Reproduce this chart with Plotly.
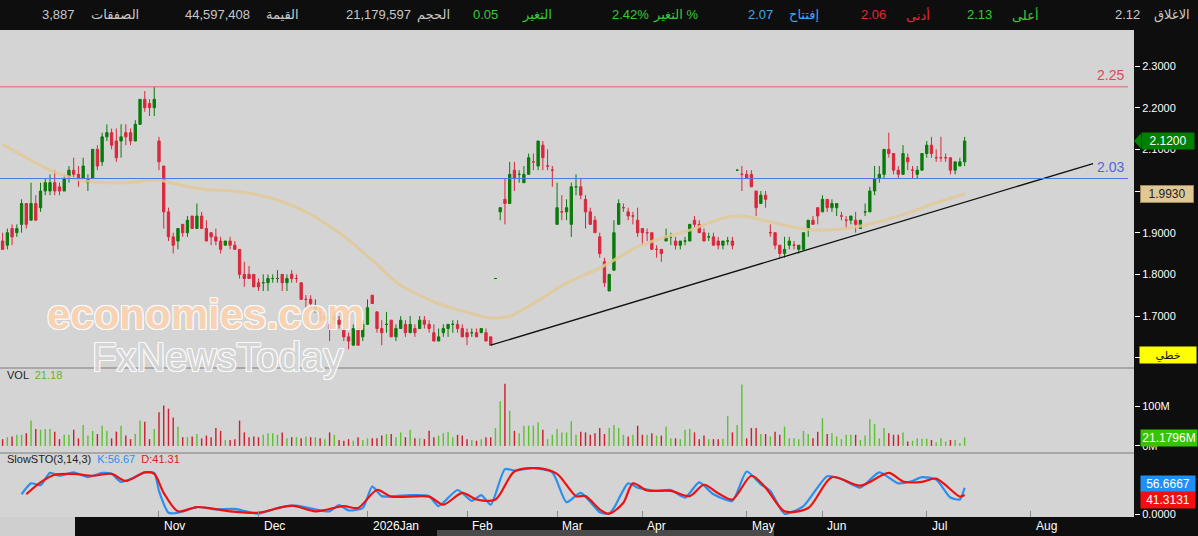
import plotly.graph_objects as go

# ---------------- DATA ----------------
opens = [1.88,1.87,1.91,1.90,1.92,1.97,1.93,1.97,1.96,2.00,
         2.00,2.02,2.01,2.00,2.03,2.05,2.04,2.03,2.02,2.03,
         2.10,2.07,2.13,2.14,2.12,2.12,2.14,2.14,2.12,2.16,
         2.22,2.21,2.20,2.12,2.06,1.95,1.89,1.88,1.92,1.90,
         1.94,1.91,1.94,1.91,1.90,1.89,1.88,1.87,1.88,1.87,
         1.86,1.80,1.80,1.80,1.78,1.78,1.78,1.79,1.79,1.80,
         1.78,1.80,1.79,1.78,1.74,1.74,1.71,1.71,1.69,1.68,
         1.69,1.69,1.67,1.65,1.63,1.67,1.65,1.68,1.75,1.71,
         1.67,1.68,1.69,1.65,1.67,1.68,1.66,1.67,1.67,1.69,
         1.68,1.66,1.64,1.66,1.67,1.68,1.68,1.67,1.66,1.66,
         1.66,1.66,1.66,1.65,1.79,1.95,1.98,1.97,2.05,2.04,
         2.02,2.04,2.07,2.06,2.11,2.06,2.05,1.92,1.95,1.95,
         1.92,2.01,2.01,1.98,1.95,1.93,1.89,1.83,1.76,1.81,
         1.92,1.96,1.95,1.94,1.93,1.91,1.90,1.90,1.86,1.86,
         1.88,1.89,1.88,1.87,1.88,1.88,1.93,1.92,1.90,1.89,
         1.89,1.88,1.87,1.88,1.88,2.05,2.04,2.04,2.04,2.00,
         1.97,1.99,1.90,1.90,1.87,1.85,1.87,1.87,1.86,1.86,
         1.91,1.93,1.96,1.95,1.98,1.96,1.96,1.94,1.93,1.93,
         1.93,1.91,1.95,1.95,2.00,2.03,2.04,2.10,2.09,2.05,
         2.04,2.08,2.05,2.04,2.05,2.09,2.11,2.08,2.08,2.08,
         2.08,2.05,2.06,2.07]
highs = [1.90,1.91,1.92,1.92,1.98,1.97,2.02,1.99,2.02,2.03,
         2.04,2.05,2.02,2.04,2.06,2.08,2.06,2.08,2.04,2.10,
         2.11,2.14,2.16,2.15,2.15,2.16,2.16,2.15,2.17,2.22,
         2.24,2.22,2.25,2.13,2.06,1.96,1.90,1.91,1.92,1.94,
         1.94,1.97,1.95,1.93,1.90,1.91,1.89,1.88,1.89,1.88,
         1.86,1.83,1.82,1.80,1.79,1.80,1.80,1.80,1.81,1.80,
         1.80,1.81,1.80,1.78,1.75,1.75,1.74,1.72,1.71,1.69,
         1.71,1.70,1.67,1.66,1.68,1.67,1.69,1.74,1.75,1.71,
         1.69,1.71,1.69,1.68,1.70,1.69,1.70,1.68,1.70,1.70,
         1.69,1.68,1.67,1.68,1.68,1.69,1.69,1.68,1.67,1.67,
         1.67,1.67,1.67,1.65,1.79,1.96,2.03,2.07,2.07,2.05,
         2.06,2.09,2.09,2.12,2.12,2.10,2.06,2.02,1.99,1.98,
         2.02,2.04,2.03,1.99,1.96,1.94,1.90,1.84,1.80,1.93,
         1.98,1.97,1.96,1.95,1.96,1.91,1.91,1.90,1.87,1.86,
         1.91,1.90,1.89,1.88,1.89,1.92,1.94,1.93,1.91,1.90,
         1.90,1.89,1.88,1.89,1.89,2.05,2.06,2.05,2.05,2.00,
         2.00,2.00,1.92,1.90,1.87,1.89,1.89,1.88,1.87,1.90,
         1.93,1.94,1.96,1.99,1.98,1.98,1.97,1.95,1.94,1.94,
         1.95,1.93,1.97,2.01,2.06,2.06,2.10,2.14,2.09,2.06,
         2.11,2.09,2.06,2.06,2.09,2.12,2.13,2.10,2.13,2.09,
         2.08,2.07,2.08,2.13]
lows = [1.86,1.86,1.87,1.89,1.90,1.91,1.93,1.93,1.95,1.99,
        1.99,1.99,1.99,2.00,2.02,2.03,2.01,2.03,2.00,2.03,
        2.05,2.06,2.12,2.10,2.07,2.08,2.11,2.11,2.12,2.16,
        2.19,2.18,2.18,2.05,1.91,1.88,1.85,1.86,1.89,1.89,
        1.91,1.91,1.91,1.88,1.87,1.87,1.85,1.87,1.86,1.86,
        1.79,1.77,1.79,1.77,1.76,1.76,1.76,1.78,1.78,1.76,
        1.76,1.78,1.78,1.74,1.72,1.72,1.71,1.69,1.69,1.64,
        1.68,1.67,1.64,1.62,1.63,1.63,1.64,1.68,1.73,1.66,
        1.63,1.66,1.65,1.64,1.67,1.65,1.66,1.65,1.67,1.67,
        1.66,1.64,1.64,1.65,1.65,1.66,1.66,1.65,1.63,1.65,
        1.65,1.66,1.64,1.63,1.79,1.93,1.92,1.97,2.00,2.02,
        2.02,2.04,2.05,2.05,2.05,2.05,2.01,1.92,1.93,1.93,
        1.89,1.99,1.98,1.91,1.92,1.90,1.84,1.77,1.76,1.81,
        1.92,1.95,1.93,1.92,1.89,1.87,1.88,1.86,1.84,1.83,
        1.88,1.87,1.86,1.86,1.87,1.88,1.91,1.90,1.88,1.88,
        1.87,1.86,1.86,1.87,1.86,2.05,2.00,2.03,2.01,1.94,
        1.97,1.96,1.89,1.86,1.84,1.84,1.86,1.86,1.85,1.86,
        1.89,1.92,1.92,1.95,1.95,1.95,1.94,1.93,1.91,1.92,
        1.90,1.91,1.94,1.95,1.99,2.02,2.03,2.08,2.04,2.03,
        2.04,2.05,2.03,2.03,2.05,2.08,2.08,2.07,2.07,2.07,
        2.04,2.04,2.06,2.06]
closes = [1.86,1.90,1.89,1.91,1.97,1.92,1.97,1.93,2.00,2.02,
          2.02,2.00,2.00,2.03,2.05,2.04,2.03,2.06,2.03,2.10,
          2.06,2.13,2.14,2.11,2.08,2.13,2.13,2.12,2.16,2.22,
          2.20,2.20,2.22,2.07,1.95,1.89,1.87,1.91,1.90,1.93,
          1.91,1.94,1.91,1.88,1.89,1.88,1.86,1.88,1.87,1.86,
          1.80,1.79,1.79,1.77,1.77,1.78,1.79,1.79,1.79,1.78,
          1.79,1.79,1.79,1.74,1.74,1.73,1.72,1.69,1.70,1.67,
          1.70,1.68,1.65,1.64,1.67,1.63,1.68,1.72,1.73,1.67,
          1.66,1.68,1.65,1.67,1.69,1.66,1.68,1.66,1.69,1.68,
          1.67,1.64,1.65,1.67,1.68,1.68,1.67,1.65,1.65,1.66,
          1.65,1.67,1.64,1.63,1.79,1.96,1.97,2.04,2.03,2.04,
          2.04,2.08,2.07,2.12,2.08,2.06,2.05,1.96,1.95,1.96,
          2.01,2.01,1.99,1.95,1.92,1.90,1.85,1.78,1.80,1.90,
          1.97,1.96,1.94,1.94,1.90,1.90,1.90,1.86,1.86,1.85,
          1.89,1.89,1.87,1.88,1.88,1.92,1.92,1.90,1.88,1.89,
          1.87,1.87,1.88,1.88,1.87,2.05,2.04,2.03,2.01,1.96,
          1.99,1.98,1.90,1.87,1.85,1.86,1.88,1.87,1.87,1.90,
          1.93,1.92,1.94,1.98,1.96,1.97,1.97,1.94,1.93,1.94,
          1.92,1.93,1.95,2.00,2.03,2.04,2.10,2.09,2.05,2.04,
          2.09,2.07,2.05,2.05,2.09,2.11,2.09,2.08,2.08,2.08,
          2.05,2.07,2.07,2.12]
volumes_m = [17,22,24,28,28,32,64,43,41,43,
             43,36,17,28,28,41,19,53,26,38,
             30,51,38,19,36,51,26,17,30,64,
             61,17,43,85,102,94,72,49,22,22,
             24,30,19,26,22,45,38,15,15,17,
             64,34,22,24,22,28,32,32,28,34,
             19,22,22,19,24,22,22,19,17,34,
             28,15,13,17,13,22,15,19,19,19,
             26,30,30,22,34,22,41,19,19,17,
             38,22,26,32,36,22,28,26,17,15,
             13,17,22,22,45,113,157,89,38,32,
             51,51,51,60,41,17,28,43,34,34,
             62,28,36,34,28,32,45,30,45,53,
             45,28,24,28,51,28,28,32,26,26,
             49,19,19,17,41,43,34,17,26,17,
             17,17,18,75,34,53,155,19,45,45,
             30,30,24,36,28,49,19,19,17,38,
             30,19,36,70,30,32,24,17,28,28,
             28,15,26,68,55,19,45,32,28,28,
             34,11,13,19,18,18,15,9,19,11,
             15,15,7,21.18]

ma_x = [0, 5, 10, 15, 19, 26, 33, 36, 42, 50, 57, 64, 71, 78, 84, 92, 99, 103,
        107, 112, 119, 126, 134, 140, 145, 152, 156, 162, 168, 173, 180, 186,
        191, 196, 203]
ma_y = [2.112, 2.08, 2.05, 2.03, 2.022, 2.02, 2.026, 2.018, 2.005, 1.998, 1.982,
        1.95, 1.90, 1.834, 1.774, 1.730, 1.706, 1.695, 1.70, 1.73, 1.779, 1.815,
        1.866, 1.89, 1.906, 1.935, 1.94, 1.926, 1.911, 1.906, 1.914, 1.93, 1.947,
        1.968, 1.993]

k_x = [4, 6, 8, 10, 12, 15, 18, 21, 23, 25, 27, 30, 32, 33, 35, 37, 41, 45, 49,
       54, 58, 62, 66, 69, 71, 73, 76, 78, 80, 83, 86, 90, 92, 96, 99, 101, 103,
       106, 108, 112, 116, 119, 122, 126, 128, 129, 132, 134, 138, 141, 144, 147,
       150, 154, 157, 160, 162, 165, 169, 174, 177, 181, 185, 189, 192, 194, 197,
       200, 202, 203]
k_y = [43, 66, 62, 88, 82, 89, 79, 88, 86, 69, 75, 89, 88, 50, 4, 4, 16, 11, 12,
       2, 14, 19, 11, 7, 20, 9, 14, 59, 39, 39, 41, 39, 18, 52, 29, 41, 21,
       96, 93, 98, 89, 26, 46, 5, 2, 14, 66, 57, 50, 52, 36, 68,
       43, 29, 91, 64, 50, 2, 18, 81, 75, 57, 89, 66, 71, 79, 74,
       36, 32, 56.67]
d_x = [5, 8, 11, 15, 19, 23, 26, 30, 32, 34, 37, 41, 48, 54, 61, 66, 72, 75, 79,
       82, 90, 93, 97, 100, 104, 108, 113, 117, 121, 123, 126, 128, 131, 133,
       136, 141, 145, 148, 151, 154, 158, 161, 165, 170, 175, 181, 187, 190,
       194, 197, 202, 203]
d_y = [43, 68, 84, 86, 82, 86, 71, 89, 86, 46, 7, 16, 7, 4, 19, 7, 18, 14, 52,
       38, 38, 21, 46, 32, 32, 91, 98, 86, 39, 39, 11, 2, 25, 66,
       51, 50, 39, 63, 45, 32, 82, 57, 7, 14, 79, 61, 88, 70,
       69, 76, 38, 41.31]

trend_x = [103, 230.1]
trend_y = [1.63, 2.066]
resistance = 2.25
support = 2.03

month_idx = [33, 54, 77, 98, 117, 135, 157, 173, 195, 217]
month_lbl = ['Nov', 'Dec', '2026Jan', 'Feb', 'Mar', 'Apr', 'May', 'Jun', 'Jul', 'Aug']
price_ticks = [1.6, 1.7, 1.8, 1.9, 2.0, 2.1, 2.2, 2.3]
price_ticktext = ["", "1.7000", "1.8000", "1.9000", "", "2.1000", "2.2000", "2.3000"]

header = [("الاغلاق", 1172, "#c8c8c8"), ("2.12", 1127, "#c8c8c8"),
          ("أعلى", 1025, "#36cc36"), ("2.13", 979, "#36cc36"),
          ("أدنى", 918, "#e8262f"), ("2.06", 873, "#e8262f"),
          ("إفتتاح", 804, "#3fa9f0"), ("2.07", 760, "#3fa9f0"),
          ("التغير %", 675, "#36cc36"), ("2.42%", 630, "#36cc36"),
          ("التغير", 537, "#36cc36"), ("0.05", 485, "#36cc36"),
          ("الحجم", 433, "#c8c8c8"), ("21,179,597", 378, "#c8c8c8"),
          ("القيمة", 282, "#c8c8c8"), ("44,597,408", 217, "#c8c8c8"),
          ("الصفقات", 115, "#c8c8c8"), ("3,887", 58, "#c8c8c8")]

# ---------------- GEOMETRY ----------------
W, H = 1198, 536
ML, MR, MT, MB = 0, 64, 30, 19
PW = W - ML - MR
PH = H - MT - MB


def pxx(px):
    return px / PW


def pxy(py):
    return (H - MB - py) / PH


BG = "#d4d4d4"
FONT = "Liberation Sans, DejaVu Sans, Arial, sans-serif"
UP = "#0a7a0a"
DN = "#d9283c"
n = len(closes)
idx = list(range(n))
XR = [-0.55, 238.74]

fig = go.Figure()
fig.add_trace(go.Candlestick(
    x=idx, open=opens, high=highs, low=lows, close=closes,
    increasing=dict(line=dict(color=UP, width=1), fillcolor=UP),
    decreasing=dict(line=dict(color=DN, width=1), fillcolor=DN),
    xaxis="x", yaxis="y", showlegend=False, hoverinfo="skip"))
fig.add_trace(go.Scatter(x=ma_x, y=ma_y, mode="lines",
                         line=dict(color="rgba(226,201,150,0.85)", width=3, shape="spline", smoothing=1.0),
                         xaxis="x", yaxis="y", showlegend=False, hoverinfo="skip"))
fig.add_trace(go.Scatter(x=trend_x, y=trend_y, mode="lines",
                         line=dict(color="#111111", width=1.3),
                         xaxis="x", yaxis="y", showlegend=False, hoverinfo="skip"))

vol_colors = ["#5cc232" if c >= o else "#cc1f2f" for o, c in zip(opens, closes)]
fig.add_trace(go.Bar(x=idx, y=volumes_m, marker=dict(color=vol_colors, line=dict(width=0)),
                     width=0.3, xaxis="x2", yaxis="y2", showlegend=False, hoverinfo="skip"))
fig.add_trace(go.Scatter(x=k_x, y=k_y, mode="lines",
                         line=dict(color="#2a8ff0", width=2.2, shape="spline", smoothing=0.6),
                         xaxis="x3", yaxis="y3", showlegend=False, hoverinfo="skip"))
fig.add_trace(go.Scatter(x=d_x, y=d_y, mode="lines",
                         line=dict(color="#ee1111", width=2.2, shape="spline", smoothing=0.8),
                         xaxis="x3", yaxis="y3", showlegend=False, hoverinfo="skip"))

yfont = dict(color="white", size=11, family=FONT)
fig.update_layout(
    width=W, height=H, margin=dict(l=ML, r=MR, t=MT, b=MB, pad=0),
    paper_bgcolor="#0e0e0e", plot_bgcolor=BG, showlegend=False,
    font=dict(family=FONT),
    xaxis=dict(domain=[0, 1], anchor="y", range=XR, showticklabels=False, showgrid=False,
               zeroline=False, ticks="", rangeslider=dict(visible=False), fixedrange=True),
    xaxis2=dict(domain=[0, 1], anchor="y2", range=XR, matches="x", showticklabels=False,
                showgrid=False, zeroline=False, ticks=""),
    xaxis3=dict(domain=[0, 1], anchor="y3", range=XR, matches="x", showticklabels=False,
                showgrid=False, zeroline=False, ticks="inside", ticklen=6, tickcolor="#8a8a8a",
                tickvals=month_idx, tickwidth=1),
    yaxis=dict(domain=[pxy(368), 1], anchor="x", side="right", range=[1.5753, 2.3864],
               tickvals=price_ticks, ticktext=price_ticktext, ticks="outside", ticklen=5,
               tickcolor="white", tickfont=yfont, showgrid=False, zeroline=False),
    yaxis2=dict(domain=[pxy(453), pxy(368)], anchor="x2", side="right", range=[-18, 197],
                tickvals=[0, 100], ticktext=["0M", "100M"], ticks="outside", ticklen=5,
                tickcolor="white", tickfont=yfont, showgrid=False, zeroline=False),
    yaxis3=dict(domain=[0, pxy(453)], anchor="x3", side="right", range=[-5, 130],
                tickvals=[0], ticktext=["0.0000"], ticks="outside", ticklen=5,
                tickcolor="white", tickfont=yfont, showgrid=False, zeroline=False),
)

shapes = []
shapes.append(dict(type="rect", xref="paper", yref="paper", x0=pxx(0), x1=pxx(75),
                   y0=pxy(536), y1=pxy(517), fillcolor="#cfcfcf", line=dict(width=0), layer="below"))
shapes.append(dict(type="rect", xref="paper", yref="paper", x0=pxx(437), x1=pxx(774),
                   y0=pxy(536), y1=pxy(530), fillcolor="#4a4a4a", line=dict(width=0), layer="below"))
for yy in (368, 453):
    shapes.append(dict(type="line", xref="paper", yref="paper", x0=0, x1=1, y0=pxy(yy), y1=pxy(yy),
                       line=dict(color="#7c7c7c", width=1)))
shapes.append(dict(type="line", xref="paper", yref="y", x0=0, x1=pxx(1128), y0=resistance, y1=resistance,
                   line=dict(color="#e8606c", width=1)))
shapes.append(dict(type="line", xref="paper", yref="y", x0=0, x1=pxx(1128), y0=support, y1=support,
                   line=dict(color="#4f78e8", width=1)))
shapes.append(dict(type="path", xref="paper", yref="y",
                   path=f"M {pxx(1134)} {closes[-1]} L {pxx(1141)} {closes[-1] + 0.0185} L {pxx(1141)} {closes[-1] - 0.0185} Z",
                   fillcolor="#008000", line=dict(width=0)))
fig.update_layout(shapes=shapes)

ann = []
for txt, cx, col in header:
    ann.append(dict(text=txt, x=pxx(cx), y=pxy(15), xref="paper", yref="paper", showarrow=False,
                    xanchor="center", yanchor="middle", font=dict(color=col, size=13, family=FONT)))
ann.append(dict(text=f"{resistance:.2f}", x=pxx(1126), y=resistance, xref="paper", yref="y", yshift=12,
                showarrow=False, xanchor="right", yanchor="middle", font=dict(color="#e04858", size=14, family=FONT)))
ann.append(dict(text=f"{support:.2f}", x=pxx(1126), y=support, xref="paper", yref="y", yshift=12,
                showarrow=False, xanchor="right", yanchor="middle", font=dict(color="#4f66e0", size=14, family=FONT)))
ann.append(dict(text=f"{closes[-1]:.4f}", x=pxx(1141), y=closes[-1], xref="paper", yref="y", showarrow=False,
                xanchor="left", yanchor="middle", bgcolor="#008000", width=50, height=14,
                font=dict(color="white", size=12, family=FONT)))
ann.append(dict(text=f"{ma_y[-1]:.4f}", x=pxx(1140), y=ma_y[-1], xref="paper", yref="y", showarrow=False,
                xanchor="left", yanchor="middle", bgcolor="#e0c894", bordercolor="#9c8458", borderwidth=1,
                width=50, height=14, font=dict(color="#222222", size=12, family=FONT)))
ann.append(dict(text="خطي", x=pxx(1139), y=pxy(355), xref="paper", yref="paper", showarrow=False,
                xanchor="left", yanchor="middle", bgcolor="#ffff00", width=54, height=14,
                font=dict(color="#111111", size=11, family=FONT)))
ann.append(dict(text="21.1796M", x=pxx(1140), y=volumes_m[-1], xref="paper", yref="y2",
                showarrow=False, xanchor="left", yanchor="middle", bgcolor="#36c400", width=54, height=14,
                font=dict(color="white", size=12, family=FONT)))
ann.append(dict(text="56.6667", x=pxx(1140), y=k_y[-1], xref="paper", yref="y3", yshift=4,
                showarrow=False, xanchor="left", yanchor="middle", bgcolor="#1e8ff5", width=52, height=14,
                font=dict(color="white", size=12, family=FONT)))
ann.append(dict(text="41.3131", x=pxx(1140), y=d_y[-1], xref="paper", yref="y3", yshift=-5,
                showarrow=False, xanchor="left", yanchor="middle", bgcolor="#f01010", width=52, height=14,
                font=dict(color="white", size=12, family=FONT)))
ann.append(dict(text="VOL  <span style='color:#5cb82e'>21.18</span>", x=pxx(5), y=pxy(375),
                xref="paper", yref="paper", showarrow=False, xanchor="left", yanchor="middle",
                font=dict(color="#222222", size=11, family=FONT)))
ann.append(dict(text="SlowSTO(3,14,3)  <span style='color:#2a8ff0'>K:56.67</span>  <span style='color:#e02020'>D:41.31</span>",
                x=pxx(5), y=pxy(459), xref="paper", yref="paper", showarrow=False, xanchor="left",
                yanchor="middle", font=dict(color="#222222", size=11, family=FONT)))
for mi, ml in zip(month_idx, month_lbl):
    ann.append(dict(text=ml, x=mi, y=pxy(526), xref="x3", yref="paper", xshift=3, showarrow=False,
                    xanchor="left", yanchor="middle", font=dict(color="white", size=12, family=FONT)))
outline = "1px 1px 0 #ffffff, -1px -1px 0 #ffffff, 1px -1px 0 #ffffff, -1px 1px 0 #ffffff, 0 1px 0 #ffffff, 1px 0 0 #ffffff, 0 -1px 0 #ffffff, -1px 0 0 #ffffff"
ann.append(dict(text="economies.com", x=pxx(205), y=pxy(314), xref="paper", yref="paper", showarrow=False,
                xanchor="center", yanchor="middle", opacity=0.9,
                font=dict(color="#fdd3b0", size=42, family="Liberation Sans", weight="bold", shadow=outline)))
ann.append(dict(text="FxNewsToday", x=pxx(217), y=pxy(357), xref="paper", yref="paper", showarrow=False,
                xanchor="center", yanchor="middle", opacity=0.9,
                font=dict(color="#d6d6d6", size=40, family="Liberation Sans", shadow=outline)))
fig.update_layout(annotations=ann)

fig.write_html("out.html", config={"displayModeBar": False, "staticPlot": True})
